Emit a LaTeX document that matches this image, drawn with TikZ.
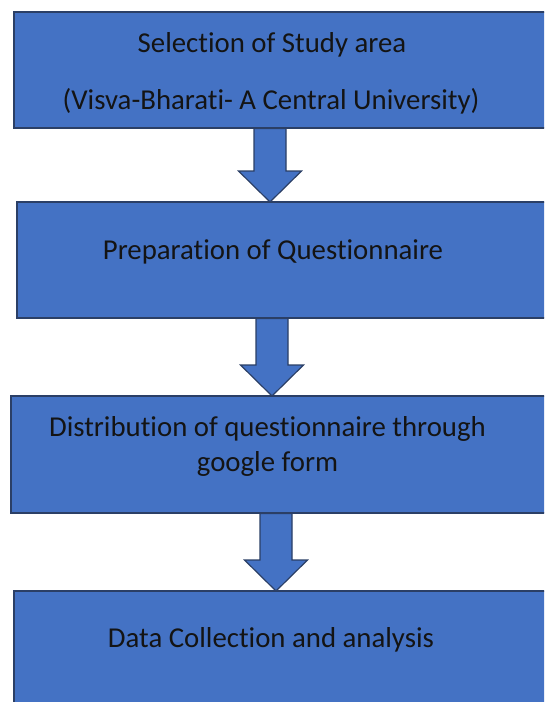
\documentclass[tikz,border=0pt]{standalone}
\usepackage{fontspec}
\setmainfont[Ligatures={NoCommon}]{Carlito}
\usetikzlibrary{calc}
\definecolor{boxfill}{HTML}{4472C4}
\definecolor{boxline}{HTML}{2B3F66}
\definecolor{txt}{HTML}{141414}
\tikzset{
  stage/.style={draw=boxline, line width=1.2pt, fill=boxfill},
  lbl/.style={anchor=base, inner sep=0pt, text=txt, font=\fontsize{28.8}{36}\selectfont},
  barrow/.style={draw=boxline, line width=1.2pt, fill=boxfill, line join=miter},
}
\newcommand\blkarrow[3]{%
  \coordinate (ax) at (#3,0);
  \draw[barrow] ($(#1.south -| ax)+(-16,0)$) -- ($(#1.south -| ax)+(16,0)$)
     -- ($(#2.north -| ax)+(16,-31)$) -- ($(#2.north -| ax)+(31.5,-31)$)
     -- (#2.north -| ax) -- ($(#2.north -| ax)+(-31.5,-31)$)
     -- ($(#2.north -| ax)+(-16,-31)$) -- cycle;}
\begin{document}
\begin{tikzpicture}[x=1pt,y=-1pt]
\useasboundingbox (0,0) rectangle (544,702);
\clip (0,0) rectangle (544,702);
\fill[white] (0,0) rectangle (544,702);
% boxes
\path[stage] (14,12) rectangle (548,128);
\node[inner sep=0pt, minimum width=534pt, minimum height=116pt, anchor=north west] (b1) at (14,12) {};
\path[stage] (17,202) rectangle (548,318);
\node[inner sep=0pt, minimum width=531pt, minimum height=116pt, anchor=north west] (b2) at (17,202) {};
\path[stage] (11,396) rectangle (548,513);
\node[inner sep=0pt, minimum width=537pt, minimum height=117pt, anchor=north west] (b3) at (11,396) {};
\path[stage] (14,591) rectangle (548,712);
\node[inner sep=0pt, minimum width=534pt, minimum height=121pt, anchor=north west] (b4) at (14,591) {};
% texts
\node[lbl] (t1a) at (272,52) {Selection of Study area};
\node[lbl] (t1b) at (271,109) {(Visva-Bharati- A Central University)};
\node[lbl] (t2) at (273,259) {Preparation of Questionnaire};
\node[lbl] (t3a) at (267.5,436) {Distribution of questionnaire through};
\node[lbl] (t3b) at (267.5,471) {google form};
\node[lbl] (t4) at (271,647) {Data Collection and analysis};
% arrows
\blkarrow{b1}{b2}{270}
\blkarrow{b2}{b3}{272}
\blkarrow{b3}{b4}{276}
\end{tikzpicture}
\end{document}
